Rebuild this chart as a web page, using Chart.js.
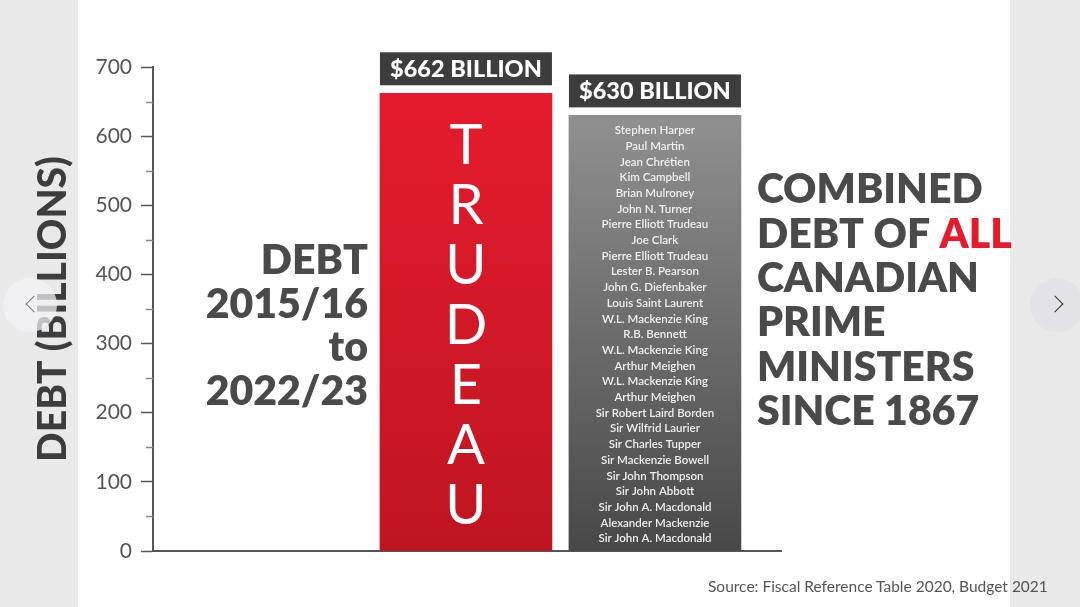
<!DOCTYPE html>
<html>
<head>
<meta charset="utf-8">
<title>Trudeau debt vs all Prime Ministers</title>
<script src="https://cdn.jsdelivr.net/npm/chart.js@4.4.0/dist/chart.umd.min.js"></script>
<style>
  html, body { margin: 0; padding: 0; }
  body { width: 1080px; height: 607px; background: #e9e9e9; position: relative; overflow: hidden; font-family: Lato, "Open Sans", sans-serif; }
  #panel { position: absolute; left: 78px; top: 0; width: 932px; height: 607px; background: #fff; }
  #wrap { position: absolute; left: 0; top: 0; width: 1080px; height: 607px; }
  #source { position: absolute; left: 708px; top: 577px; font-size: 15.5px; color: #555; white-space: nowrap; }
  .nav { position: absolute; width: 54px; height: 54px; border-radius: 50%; }
  #navLeft { left: 3px; top: 278px; background: rgba(243, 243, 247, 0.72); }
  #navRight { left: 1030px; top: 278px; background: #e3e3e7; }
  .chev { position: absolute; width: 11px; height: 11px; border-top: 1.6px solid #333; border-right: 1.6px solid #333; top: 20px; }
  #navLeft .chev { left: 25px; transform: rotate(-135deg); border-color: #777; }
  #navRight .chev { left: 19px; transform: rotate(45deg); }
</style>
</head>
<body>
<div id="panel"></div>
<div id="wrap"><canvas id="chart" width="1080" height="607"></canvas></div>
<div id="source">Source: Fiscal Reference Table 2020, Budget 2021</div>
<div class="nav" id="navLeft"><div class="chev"></div></div>
<div class="nav" id="navRight"><div class="chev"></div></div>

<script>
// ----------------------
// DATA
// ----------------------
const categories = ["Trudeau", "All Canadian Prime Ministers since 1867"];
const debtBillions = [662, 630];
const valueLabels = ["$662 BILLION", "$630 BILLION"];
const barLetters = ["T", "R", "U", "D", "E", "A", "U"];
const primeMinisters = [
    "Stephen Harper", "Paul Martin", "Jean Chrétien", "Kim Campbell", "Brian Mulroney",
    "John N. Turner", "Pierre Elliott Trudeau", "Joe Clark", "Pierre Elliott Trudeau",
    "Lester B. Pearson", "John G. Diefenbaker", "Louis Saint Laurent", "W.L. Mackenzie King",
    "R.B. Bennett", "W.L. Mackenzie King", "Arthur Meighen", "W.L. Mackenzie King",
    "Arthur Meighen", "Sir Robert Laird Borden", "Sir Wilfrid Laurier", "Sir Charles Tupper",
    "Sir Mackenzie Bowell", "Sir John Thompson", "Sir John Abbott", "Sir John A. Macdonald",
    "Alexander Mackenzie", "Sir John A. Macdonald"
];
const leftCaption = ["DEBT", "2015/16", "to", "2022/23"];
const rightCaption = ["COMBINED", "DEBT OF |ALL", "CANADIAN", "PRIME", "MINISTERS", "SINCE 1867"];
const yMin = 0, yMax = 700, yStep = 100;

// colours
const barTopColors = ["#e51b2d", "#909090"];
const barBottomColors = ["#bf1521", "#484848"];
const inkColor = "#4a4a4a";
const accentRed = "#e31b2d";

// ----------------------
// HELPERS
// ----------------------
function barFill(c) {
    const chart = c.chart;
    const i = c.dataIndex;
    const area = chart.chartArea;
    const ys = chart.scales.y;
    if (!area || !ys) return barTopColors[i];
    const top = ys.getPixelForValue(debtBillions[i]);
    const g = chart.ctx.createLinearGradient(0, top, 0, area.bottom);
    g.addColorStop(0, barTopColors[i]);
    g.addColorStop(1, barBottomColors[i]);
    return g;
}

// minor ticks halfway between labelled ones
const minorTicks = {
    id: "minorTicks",
    afterDraw(chart) {
        const ys = chart.scales.y;
        const ctx = chart.ctx;
        ctx.save();
        ctx.strokeStyle = "#888";
        ctx.lineWidth = 1.5;
        for (let v = yMin + yStep / 2; v < yMax; v += yStep) {
            const py = Math.round(ys.getPixelForValue(v)) + 0.5;
            ctx.beginPath();
            ctx.moveTo(ys.right - 7, py);
            ctx.lineTo(ys.right, py);
            ctx.stroke();
        }
        ctx.restore();
    }
};

// value boxes, text inside bars, side captions
const annotate = {
    id: "annotate",
    afterDatasetsDraw(chart) {
        const ctx = chart.ctx;
        const bars = chart.getDatasetMeta(0).data;
        ctx.save();
        ctx.textAlign = "center";
        ctx.textBaseline = "middle";

        bars.forEach((bar, i) => {
            const left = bar.x - bar.width / 2;
            ctx.fillStyle = "#3d3d3d";
            ctx.fillRect(left, bar.y - 41, bar.width, 33);
            ctx.fillStyle = "#fff";
            ctx.font = "900 23.5px Lato";
            ctx.fillText(valueLabels[i], bar.x, bar.y - 24);
        });

        // TRUDEAU, one letter per line
        const b0 = bars[0];
        ctx.fillStyle = "#fff";
        ctx.font = "400 56px Lato";
        barLetters.forEach((ch, k) => ctx.fillText(ch, b0.x, b0.y + 53 + k * 60));

        // names of all prime ministers
        const b1 = bars[1];
        ctx.fillStyle = "#f0f0f0";
        ctx.font = "600 11.5px Lato";
        primeMinisters.forEach((n, k) => ctx.fillText(n, b1.x, b1.y + 15 + k * 15.7));

        // left caption
        ctx.fillStyle = inkColor;
        ctx.font = "800 41px Lato";
        ctx.textAlign = "right";
        const lx = b0.x - b0.width / 2 - 12;
        leftCaption.forEach((t, k) => ctx.fillText(t, lx, 261 + k * 43.5));

        // right caption
        ctx.textAlign = "left";
        const rx = b1.x + b1.width / 2 + 16;
        rightCaption.forEach((t, k) => {
            const yy = 190 + k * 44.4;
            const parts = t.split("|");
            ctx.fillStyle = inkColor;
            ctx.fillText(parts[0], rx, yy);
            if (parts[1]) {
                const w = ctx.measureText(parts[0]).width;
                ctx.fillStyle = accentRed;
                ctx.fillText(parts[1], rx + w, yy);
            }
        });
        ctx.restore();
    }
};

// ----------------------
// CHART
// ----------------------
const ctx = document.getElementById("chart").getContext("2d");
new Chart(ctx, {
    type: "bar",
    data: {
        datasets: [{
            label: "Debt (billions)",
            data: categories.map((c, i) => ({ x: i + 1, y: debtBillions[i] })),
            backgroundColor: barFill,
            borderWidth: 0,
            barThickness: 172
        }]
    },
    options: {
        responsive: false,
        animation: false,
        layout: { padding: { left: 0, right: 299, top: 67, bottom: 48 } },
        plugins: { legend: { display: false }, tooltip: { enabled: false } },
        scales: {
            x: {
                type: "linear",
                offset: false,
                min: -0.656,
                max: 2.667,
                ticks: { display: false },
                grid: { display: false },
                border: { display: true, color: "#555", width: 2 }
            },
            y: {
                min: yMin,
                max: yMax,
                ticks: { stepSize: yStep, color: "#555", padding: 9, font: { family: "Lato", size: 21 } },
                grid: { drawOnChartArea: false, drawTicks: true, tickLength: 12, tickColor: "#555", tickWidth: 1.5 },
                border: { display: true, color: "#555", width: 2 },
                title: {
                    display: true,
                    text: "DEBT (BILLIONS)",
                    color: "#3d3d3d",
                    font: { family: "Lato", size: 39, weight: "900" },
                    padding: { top: 30, bottom: 0 }
                },
                afterFit: s => { s.width = 153; }
            }
        }
    },
    plugins: [minorTicks, annotate]
});
</script>
</body>
</html>
